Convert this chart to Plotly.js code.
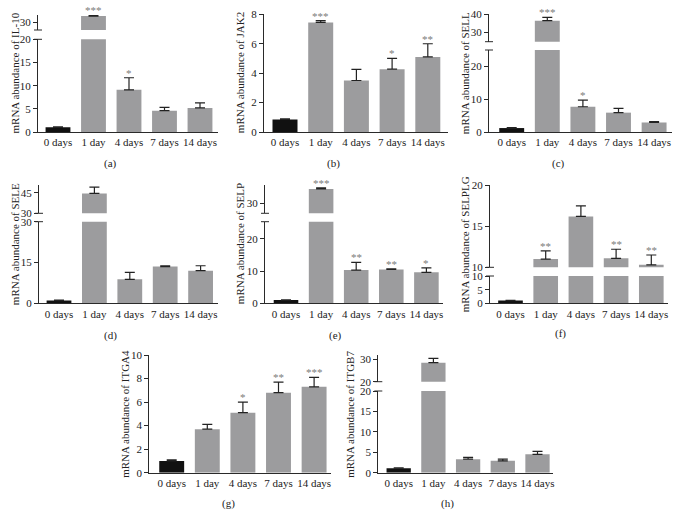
<!DOCTYPE html>
<html><head><meta charset="utf-8">
<script src="https://cdn.plot.ly/plotly-3.0.1.min.js"></script>
<style>html,body{margin:0;padding:0;background:#fff;}#chart{width:678px;height:527px;}</style>
</head><body><div id="chart"></div>
<script>
const categories = ['0 days', '1 day', '4 days', '7 days', '14 days'];

const il10Values = [1.0, 34.3, 9.1, 4.6, 5.2];
const il10Errors = [0.1, 0.4, 2.6, 0.7, 1.1];
const il10Stars = ['', '***', '*', '', ''];

const jak2Values = [0.85, 7.45, 3.5, 4.27, 5.1];
const jak2Errors = [0.05, 0.12, 0.75, 0.73, 0.9];
const jak2Stars = ['', '***', '', '*', '**'];

const sellValues = [1.2, 36.5, 7.7, 5.9, 2.9];
const sellErrors = [0.15, 1.8, 2.0, 1.3, 0.3];
const sellStars = ['', '***', '*', '', ''];

const seleValues = [1.0, 44.5, 8.8, 13.5, 12.0];
const seleErrors = [0.2, 4.5, 2.6, 0.3, 1.8];
const seleStars = ['', '', '', '', ''];

const selpValues = [1.0, 34.5, 10.3, 10.5, 9.6];
const selpErrors = [0.1, 0.3, 2.4, 0.2, 1.4];
const selpStars = ['', '***', '**', '**', '*'];

const selplgValues = [1.0, 11.0, 16.2, 11.1, 10.3];
const selplgErrors = [0.1, 1.0, 1.3, 1.1, 1.2];
const selplgStars = ['', '**', '', '**', '**'];

const itga4Values = [1.0, 3.7, 5.1, 6.8, 7.3];
const itga4Errors = [0.1, 0.4, 0.9, 0.9, 0.8];
const itga4Stars = ['', '', '*', '**', '***'];

const itgb7Values = [1.1, 28.4, 3.3, 2.9, 4.5];
const itgb7Errors = [0.1, 1.9, 0.45, 0.4, 0.7];
const itgb7Stars = ['', '', '', '', ''];

// layout of panels (pixel geometry only)
const panels = [
  {title:'mRNA abundance of IL-10', label:'(a)', v:il10Values, e:il10Errors, s:il10Stars,
   left:38, c0:58, sp:35.5, right:218, base:132, lowTop:39.3, lowRange:[0,20], lowTicks:[0,5,10,15,20],
   up:{bottom:30, top:15, range:[25,35], ticks:[30]}, titleX:15, labelX:110, labelY:163},
  {title:'mRNA abundance of JAK2', label:'(b)', v:jak2Values, e:jak2Errors, s:jak2Stars,
   left:264, c0:285, sp:35.7, right:448, base:132, lowTop:14.3, lowRange:[0,8], lowTicks:[0,2,4,6,8],
   up:null, titleX:240, labelX:333, labelY:163},
  {title:'mRNA abundance of SELL', label:'(c)', v:sellValues, e:sellErrors, s:sellStars,
   left:489, c0:511.7, sp:35.6, right:672, base:132, lowTop:50, lowRange:[0,25], lowTicks:[0,10,20],
   up:{bottom:41.7, top:14.3, range:[25,40], ticks:[30,40]}, titleX:465, labelX:558, labelY:163},
  {title:'mRNA abundance of SELE', label:'(d)', v:seleValues, e:seleErrors, s:seleStars,
   left:39, c0:59, sp:35.4, right:218, base:303.3, lowTop:221.7, lowRange:[0,30], lowTicks:[0,15,30],
   up:{bottom:213.3, top:185, range:[30,50.6], ticks:[30,45]}, titleX:15, labelX:110, labelY:335},
  {title:'mRNA abundance of SELP', label:'(e)', v:selpValues, e:selpErrors, s:selpStars,
   left:265, c0:286, sp:35.1, right:443, base:303.3, lowTop:221.7, lowRange:[0,25.3], lowTicks:[0,10,20],
   up:{bottom:213.3, top:185, range:[27,35.7], ticks:[30]}, titleX:240, labelX:335, labelY:335},
  {title:'mRNA abundance of SELPLG', label:'(f)', v:selplgValues, e:selplgErrors, s:selplgStars,
   left:490, c0:510.5, sp:35.2, right:668, base:303.3, lowTop:276, lowRange:[0,10], lowTicks:[0,5,10],
   up:{bottom:267.3, top:185.3, range:[10,20], ticks:[10,15,20]}, titleX:465, labelX:560, labelY:333},
  {title:'mRNA abundance of ITGA4', label:'(g)', v:itga4Values, e:itga4Errors, s:itga4Stars,
   left:149.3, c0:171.7, sp:35.6, right:331, base:472.7, lowTop:355, lowRange:[0,10], lowTicks:[0,2,4,6,8,10],
   up:null, titleX:125, labelX:228, labelY:503},
  {title:'mRNA abundance of ITGB7', label:'(h)', v:itgb7Values, e:itgb7Errors, s:itgb7Stars,
   left:378.3, c0:398.7, sp:34.7, right:553, base:472.7, lowTop:391, lowRange:[0,20], lowTicks:[0,5,10,15,20],
   up:{bottom:381.7, top:355, range:[20,31.8], ticks:[20,30]}, titleX:350, labelX:447, labelY:503}
];

const W = 678, H = 527;
const px = x => x / W, py = y => 1 - y / H;
const AX = '#2a2a2a';
const FONT = 'Liberation Serif, Times New Roman, serif';

const data = [];
const layout = {
  width: W, height: H, margin: {l:0, r:0, t:0, b:0},
  paper_bgcolor: '#fff', plot_bgcolor: 'rgba(0,0,0,0)', showlegend: false,
  barmode: 'overlay', bargap: 0.3,
  font: {family: FONT, size: 11, color: '#222'},
  annotations: [], shapes: []
};

function yAxisDef(domain, range, ticks, xk) {
  return {domain: domain, range: range, anchor: xk, showline: true, linecolor: AX, linewidth: 1,
    ticks: 'outside', ticklen: 4, tickwidth: 1, tickcolor: AX, tickvals: ticks,
    showgrid: false, zeroline: false, tickfont: {size: 11, family: FONT, color: '#222'}, fixedrange: true};
}
function barTrace(p, xk, yk) {
  return {type: 'bar', x: categories.map((c, j) => j), y: p.v, xaxis: xk, yaxis: yk,
    marker: {color: p.v.map((v, j) => j === 0 ? '#111111' : '#9c9c9e'), line: {width: 0}},
    error_y: {type: 'data', symmetric: false, array: p.e, arrayminus: p.v.map(() => 0),
      color: '#222', thickness: 1.2, width: 5},
    hoverinfo: 'skip'};
}

let yc = 0;
panels.forEach((p, i) => {
  const xn = i + 1;
  const xk = xn === 1 ? 'x' : 'x' + xn, xl = xn === 1 ? 'xaxis' : 'xaxis' + xn;
  yc++;
  const yk = yc === 1 ? 'y' : 'y' + yc, yl = yc === 1 ? 'yaxis' : 'yaxis' + yc;
  layout[xl] = {domain: [px(p.left), px(p.right)], range: [-(p.c0 - p.left) / p.sp, (p.right - p.c0) / p.sp],
    anchor: yk, showline: true, linecolor: AX, linewidth: 1, ticks: '', showgrid: false, zeroline: false,
    tickvals: categories.map((c, j) => j), ticktext: categories,
    tickfont: {size: 11, family: FONT, color: '#222'}, fixedrange: true};
  layout[yl] = yAxisDef([py(p.base), py(p.lowTop)], p.lowRange, p.lowTicks, xk);
  data.push(barTrace(p, xk, yk));
  let uk = null;
  if (p.up) {
    yc++;
    uk = 'y' + yc; const ul = 'yaxis' + yc;
    layout[ul] = yAxisDef([py(p.up.bottom), py(p.up.top)], p.up.range, p.up.ticks, xk);
    data.push(barTrace(p, xk, uk));
    [p.lowTop, p.up.bottom].forEach(yy => {
      layout.shapes.push({type: 'line', xref: 'paper', yref: 'paper',
        x0: px(p.left - 4), x1: px(p.left + 4), y0: py(yy), y1: py(yy), line: {color: AX, width: 1}});
    });
  }
  p.s.forEach((s, j) => {
    if (!s) return;
    const top = p.v[j] + p.e[j];
    const ref = (p.up && top > p.lowRange[1]) ? uk : yk;
    layout.annotations.push({xref: xk, yref: ref, x: j, y: top, text: s, showarrow: false,
      yanchor: 'bottom', yshift: -3, font: {size: 11, color: '#7a7a7a', family: FONT}});
  });
  const topPx = p.up ? p.up.top : p.lowTop;
  layout.annotations.push({xref: 'paper', yref: 'paper', x: px(p.titleX), y: py((p.base + topPx) / 2),
    text: p.title, textangle: -90, showarrow: false, xanchor: 'center', yanchor: 'middle',
    font: {size: 11, family: FONT, color: '#222'}});
  layout.annotations.push({xref: 'paper', yref: 'paper', x: px(p.labelX), y: py(p.labelY),
    text: p.label, showarrow: false, xanchor: 'center', yanchor: 'middle',
    font: {size: 11, family: FONT, color: '#222'}});
});

Plotly.newPlot('chart', data, layout, {displayModeBar: false, staticPlot: true});
</script>
</body></html>
